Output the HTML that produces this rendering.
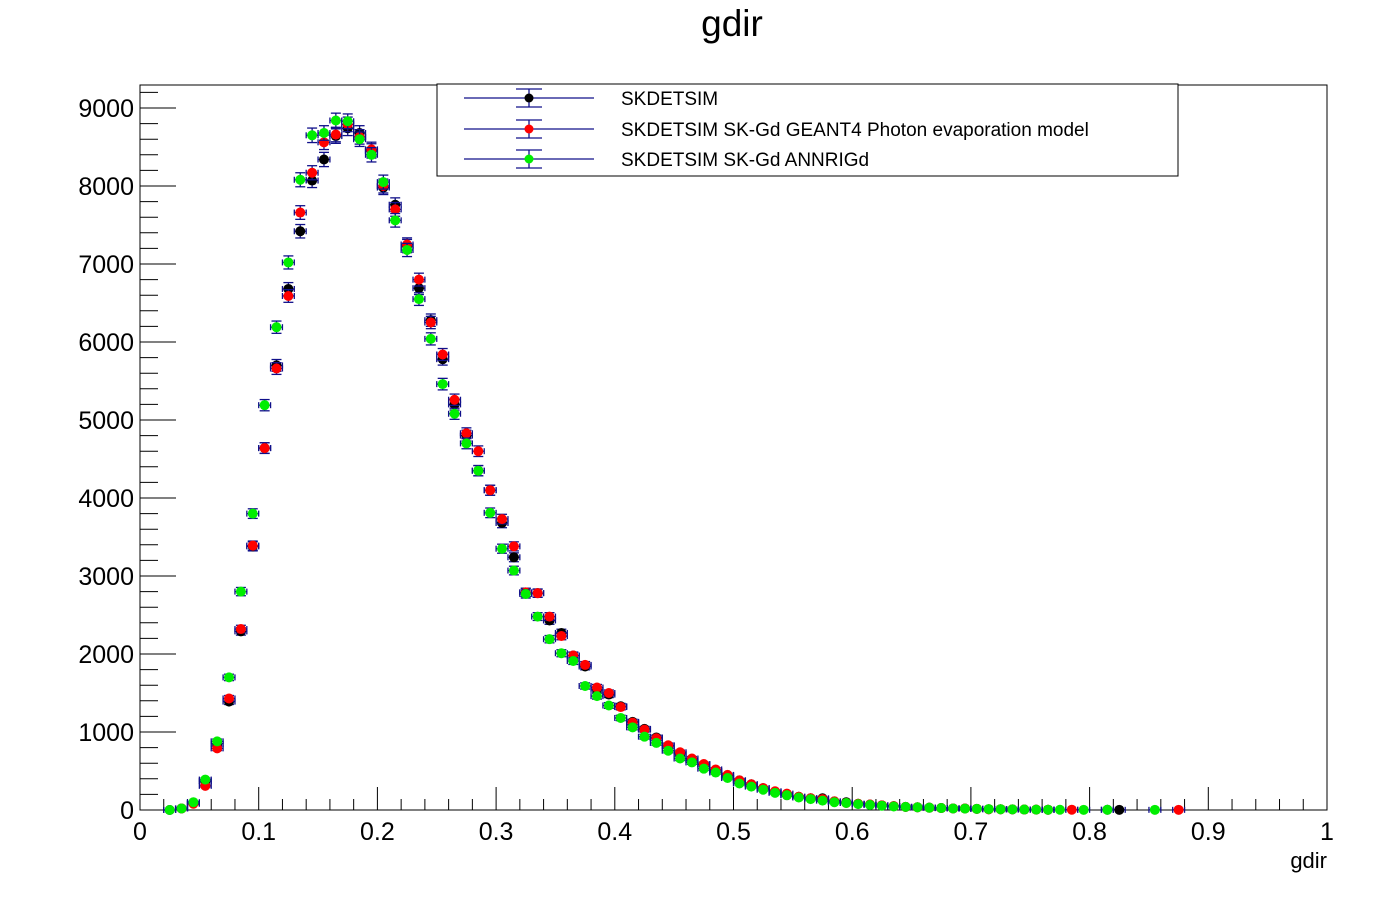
<!DOCTYPE html>
<html><head><meta charset="utf-8"><style>
body{margin:0;background:#fff;}
svg text{font-family:"Liberation Sans",sans-serif;}
</style></head><body>
<svg id="c" width="1388" height="894" xmlns="http://www.w3.org/2000/svg">
<rect width="1388" height="894" fill="#fff"/>
<text x="732" y="36" font-size="37" text-anchor="middle">gdir</text>
<rect x="140" y="85" width="1187" height="725" fill="none" stroke="#000" stroke-width="1"/>
<g id="axes"></g>
<g id="marks"></g>
<text x="1327" y="868" font-size="22" text-anchor="end">gdir</text>
<g>
<rect x="437" y="84" width="741" height="92" fill="#fff" stroke="#000" stroke-width="1"/>
<g id="leg"></g>
</g>
</svg>
<script>
const binStart = 0.025, binStep = 0.01;
const seriesNames = ["SKDETSIM","SKDETSIM SK-Gd GEANT4 Photon evaporation model","SKDETSIM SK-Gd ANNRIGd"];
const seriesColors = ["#000000","#ff0000","#00ee00"];
const blackVals = [0,20,90,370,850,1390,2290,3380,4640,5700,6680,7420,8070,8340,8640,8740,8680,8450,7980,7760,7230,6690,6280,5780,5200,4800,4350,4100,3680,3240,2790,2780,2430,2270,1980,1840,1540,1480,1330,1130,1040,930,820,720,640,580,500,440,380,330,280,230,190,170,150,150,110,100,80,70,60,50,40,35,30,25,20,20,15,10,10,8,6,5,4,null,null,null,null,3,2,null,null,null,null,null];
const redVals = [null,20,80,310,790,1430,2320,3390,4640,5660,6590,7660,8170,8560,8660,8790,8630,8470,8000,7700,7250,6800,6250,5840,5260,4830,4600,4100,3730,3380,2790,2780,2480,2230,1980,1860,1570,1500,1320,1120,1030,920,830,740,660,590,520,450,380,330,280,240,210,170,150,140,110,90,80,70,60,50,40,35,30,25,20,20,15,10,10,8,6,5,4,null,4,null,null,null,null,null,null,null,null,2];
const greenVals = [0,20,100,390,880,1700,2800,3800,5190,6190,7020,8080,8650,8680,8840,8830,8600,8400,8050,7560,7180,6550,6040,5460,5080,4700,4350,3810,3350,3070,2770,2480,2190,2010,1910,1590,1460,1340,1180,1060,940,860,760,660,610,530,480,410,340,300,260,220,190,160,140,120,100,90,75,65,55,45,40,35,30,25,20,18,15,12,10,8,6,5,4,3,null,2,null,3,null,null,null,2,null,null];
const allSeries = [blackVals, redVals, greenVals];
const xTicks = [0,0.1,0.2,0.3,0.4,0.5,0.6,0.7,0.8,0.9,1];
const xTickLabels = ["0","0.1","0.2","0.3","0.4","0.5","0.6","0.7","0.8","0.9","1"];
const yTicks = [0,1000,2000,3000,4000,5000,6000,7000,8000,9000];
const yTickLabels = ["0","1000","2000","3000","4000","5000","6000","7000","8000","9000"];

const X0=140,X1=1327,Y0=810,YT=85, YMAX=9295;
function sx(v){return X0+(X1-X0)*v;}
function sy(v){return Y0-(Y0-YT)*v/YMAX;}
const NS="http://www.w3.org/2000/svg";
function mk(tag,attrs,parent){const e=document.createElementNS(NS,tag);for(const k in attrs)e.setAttribute(k,attrs[k]);parent.appendChild(e);return e;}
const axes=document.getElementById('axes');
for(let i=0;i<=50;i++){const v=i*0.02;const major=(i%5===0);
 const t=mk('line',{x1:sx(v),x2:sx(v),y1:Y0,y2:Y0-(major?23:11),stroke:'#000','stroke-width':1},axes);
 
 }
xTicks.forEach((v,i)=>{const t=mk('text',{x:sx(v),y:Y0+30,'font-size':25,'text-anchor':'middle'},axes);t.textContent=xTickLabels[i];
 
 });
for(let v=0;v<=9200;v+=200){const major=(v%1000===0);
 const t=mk('line',{x1:X0,x2:X0+(major?36:18),y1:sy(v),y2:sy(v),stroke:'#000','stroke-width':1},axes);
 
 }
yTicks.forEach((v,i)=>{const t=mk('text',{x:X0-6,y:sy(v)+9,'font-size':25,'text-anchor':'end'},axes);t.textContent=yTickLabels[i];
 
 });
const marks=document.getElementById('marks');
const ebc='#10108a';
allSeries.forEach((vals,si)=>{
 const g=mk('g',{},marks);
 
 
 vals.forEach((v,i)=>{ if(v===null) return;
  const c=binStart+i*binStep; const x=sx(c), y=sy(v);
  const e=Math.sqrt(v);
  const hl=sx(c-binStep/2), hr=sx(c+binStep/2);
  mk('line',{x1:hl,x2:hr,y1:y,y2:y,stroke:ebc,'stroke-width':1.3},g);
  if(v>0){const yt=sy(v+e), yb=sy(v-e);
   mk('line',{x1:x,x2:x,y1:yt,y2:yb,stroke:ebc,'stroke-width':1.3},g);
   mk('line',{x1:x-5,x2:x+5,y1:yt,y2:yt,stroke:ebc,'stroke-width':1.3},g);
   mk('line',{x1:x-5,x2:x+5,y1:yb,y2:yb,stroke:ebc,'stroke-width':1.3},g);}
  mk('line',{x1:hl,x2:hl,y1:y-3,y2:y+3,stroke:ebc,'stroke-width':1.3},g);
  mk('line',{x1:hr,x2:hr,y1:y-3,y2:y+3,stroke:ebc,'stroke-width':1.3},g);
  const p=mk('circle',{cx:x,cy:y,r:5,fill:seriesColors[si]},g);
  
  
 });
});
const leg=document.getElementById('leg');
const legY=[98,129,159];
seriesNames.forEach((n,i)=>{const y=legY[i];
 const g=mk('g',{},leg);
 
 
 mk('line',{x1:464,x2:594,y1:y,y2:y,stroke:ebc,'stroke-width':1.3},g);
 mk('line',{x1:529,x2:529,y1:y-9,y2:y+9,stroke:ebc,'stroke-width':1.3},g);
 mk('line',{x1:516,x2:542,y1:y-9,y2:y-9,stroke:ebc,'stroke-width':1.3},g);
 mk('line',{x1:516,x2:542,y1:y+9,y2:y+9,stroke:ebc,'stroke-width':1.3},g);
 mk('circle',{cx:529,cy:y,r:4.5,fill:seriesColors[i]},g);
 const t=mk('text',{x:621,y:y+7,'font-size':19},g);t.textContent=n;
});
</script>
</body></html>
